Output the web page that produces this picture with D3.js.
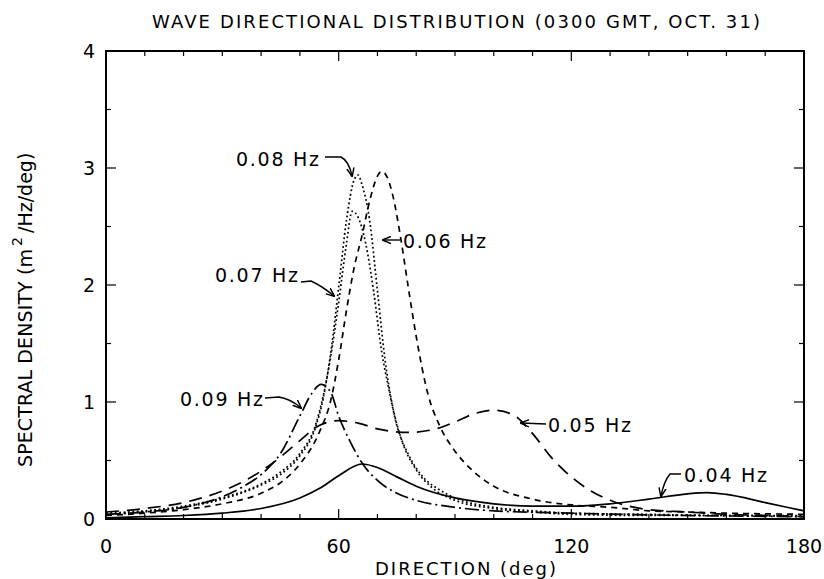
<!DOCTYPE html>
<html>
<head>
<meta charset="utf-8">
<script src="https://cdn.jsdelivr.net/npm/d3@7"></script>
<style>
  body { margin: 0; background: #fff; }
  svg text { font-family: "DejaVu Sans", "Liberation Sans", sans-serif; fill: #000; }
</style>
</head>
<body>
<svg id="chart" width="824" height="579"></svg>
<script>
// directions (deg) and spectral density per frequency
const dir04 = [0, 10, 20, 30, 40, 50, 55, 60, 66, 70, 75, 80, 90, 100, 110, 120, 130, 140, 150, 155, 160, 170, 180];
const val04 = [0.01, 0.02, 0.03, 0.05, 0.09, 0.18, 0.26, 0.37, 0.47, 0.44, 0.36, 0.28, 0.18, 0.13, 0.11, 0.11, 0.13, 0.17, 0.215, 0.225, 0.21, 0.14, 0.07];

const dir05 = [0, 10, 20, 30, 36, 40, 45, 50, 55, 60, 65, 70, 78, 85, 90, 95, 100, 105, 110, 115, 120, 125, 130, 140, 150, 160, 170, 180];
const val05 = [0.06, 0.09, 0.14, 0.24, 0.33, 0.41, 0.53, 0.67, 0.8, 0.84, 0.82, 0.77, 0.74, 0.77, 0.83, 0.9, 0.93, 0.89, 0.73, 0.52, 0.36, 0.24, 0.16, 0.08, 0.06, 0.04, 0.03, 0.02];

const dir06 = [0, 10, 20, 30, 40, 45, 50, 55, 58, 60, 62, 64, 66, 68, 70, 71, 72, 74, 76, 78, 80, 83, 86, 90, 95, 100, 110, 120, 130, 140, 150, 160, 180];
const val06 = [0.03, 0.05, 0.08, 0.13, 0.22, 0.31, 0.47, 0.74, 1.02, 1.36, 1.78, 2.15, 2.42, 2.72, 2.93, 2.97, 2.95, 2.76, 2.4, 1.97, 1.56, 1.07, 0.8, 0.58, 0.4, 0.28, 0.17, 0.12, 0.1, 0.07, 0.06, 0.05, 0.04];

const dir07 = [0, 10, 20, 30, 40, 45, 50, 54, 56, 58, 60, 62, 63.5, 65, 67, 69, 71, 73, 75, 78, 82, 86, 90, 100, 110, 120, 140, 160, 180];
const val07 = [0.05, 0.07, 0.11, 0.18, 0.3, 0.4, 0.56, 0.8, 1.05, 1.4, 1.85, 2.35, 2.63, 2.58, 2.35, 1.95, 1.45, 1.1, 0.8, 0.55, 0.35, 0.25, 0.18, 0.1, 0.07, 0.05, 0.04, 0.03, 0.03];

const dir08 = [0, 10, 20, 30, 40, 45, 50, 54, 56, 58, 60, 62, 64, 65, 66, 68, 70, 72, 74, 76, 80, 84, 90, 100, 110, 120, 140, 160, 180];
const val08 = [0.04, 0.06, 0.1, 0.17, 0.29, 0.38, 0.54, 0.78, 1.03, 1.43, 1.98, 2.55, 2.9, 2.94, 2.86, 2.55, 1.95, 1.35, 0.95, 0.7, 0.42, 0.27, 0.16, 0.09, 0.06, 0.04, 0.03, 0.03, 0.02];

const dir09 = [0, 10, 20, 30, 35, 40, 45, 50, 53, 55.5, 58, 60, 63, 66, 70, 75, 80, 90, 100, 120, 150, 180];
const val09 = [0.04, 0.06, 0.1, 0.19, 0.27, 0.38, 0.56, 0.88, 1.07, 1.15, 1.08, 0.88, 0.66, 0.48, 0.33, 0.22, 0.16, 0.1, 0.07, 0.05, 0.03, 0.02];

const xTicks = [0, 60, 120, 180];
const yTicks = [0, 1, 2, 3, 4];

const svg = d3.select('#chart');
const plotL = 106, plotR = 804, plotT = 51, plotB = 519;

const x = d3.scaleLinear().domain([0, 180]).range([plotL, plotR]);
const y = d3.scaleLinear().domain([0, 4]).range([plotB, plotT]);

svg.append('defs').append('marker')
  .attr('id', 'head')
  .attr('viewBox', '0 0 10 10').attr('refX', 9).attr('refY', 5)
  .attr('markerWidth', 9).attr('markerHeight', 9)
  .attr('markerUnits', 'userSpaceOnUse')
  .attr('orient', 'auto')
  .append('path').attr('d', 'M0,1 L10,5 L0,9').attr('fill', 'none').attr('stroke', '#000').attr('stroke-width', 1.6);

const series = [
  { d: dir04, v: val04, dash: null },
  { d: dir05, v: val05, dash: '13,8' },
  { d: dir06, v: val06, dash: '6,5' },
  { d: dir07, v: val07, dash: '1.8,2.6' },
  { d: dir08, v: val08, dash: '1.8,2.6' },
  { d: dir09, v: val09, dash: '14,4,2,4' }
];

const line = d3.line()
  .x(p => x(p[0]))
  .y(p => y(p[1]))
  .curve(d3.curveMonotoneX);

series.forEach(s => {
  svg.append('path')
    .attr('d', line(d3.zip(s.d, s.v)))
    .attr('fill', 'none')
    .attr('stroke', '#000')
    .attr('stroke-width', 1.7)
    .attr('stroke-dasharray', s.dash);
});

// frame with inward ticks on all four sides
svg.append('rect')
  .attr('x', plotL).attr('y', plotT)
  .attr('width', plotR - plotL).attr('height', plotB - plotT)
  .attr('fill', 'none').attr('stroke', '#000').attr('stroke-width', 2);

const minorX = d3.range(0, 181, 10);
minorX.forEach(t => {
  const len = t % 60 === 0 ? 10 : 5;
  svg.append('line').attr('x1', x(t)).attr('x2', x(t)).attr('y1', plotB).attr('y2', plotB - len)
    .attr('stroke', '#000').attr('stroke-width', 1.2);
  svg.append('line').attr('x1', x(t)).attr('x2', x(t)).attr('y1', plotT).attr('y2', plotT + len)
    .attr('stroke', '#000').attr('stroke-width', 1.2);
});
const minorY = d3.range(0, 4.01, 0.5);
minorY.forEach(t => {
  const len = t % 1 === 0 ? 10 : 5;
  svg.append('line').attr('x1', plotL).attr('x2', plotL + len).attr('y1', y(t)).attr('y2', y(t))
    .attr('stroke', '#000').attr('stroke-width', 1.2);
  svg.append('line').attr('x1', plotR).attr('x2', plotR - len).attr('y1', y(t)).attr('y2', y(t))
    .attr('stroke', '#000').attr('stroke-width', 1.2);
});

svg.selectAll('.xt').data(xTicks).enter().append('text')
  .attr('x', d => x(d)).attr('y', 553)
  .attr('text-anchor', 'middle').attr('font-size', 19)
  .text(d => d);

svg.selectAll('.yt').data(yTicks).enter().append('text')
  .attr('x', 95).attr('y', d => y(d) + 7)
  .attr('text-anchor', 'end').attr('font-size', 19)
  .text(d => d);

// titles
svg.append('text')
  .attr('x', 152).attr('y', 28)
  .attr('font-size', 18)
  .attr('textLength', 608).attr('lengthAdjust', 'spacing')
  .text('WAVE DIRECTIONAL DISTRIBUTION (0300 GMT, OCT. 31)');

svg.append('text')
  .attr('x', 375).attr('y', 575)
  .attr('font-size', 18)
  .attr('textLength', 181).attr('lengthAdjust', 'spacing')
  .text('DIRECTION (deg)');

const yl = svg.append('text')
  .attr('transform', 'translate(32,467) rotate(-90)')
  .attr('font-size', 19);
yl.append('tspan').attr('textLength', 218).attr('lengthAdjust', 'spacing').text('SPECTRAL DENSITY (m');
yl.append('tspan').attr('dy', -10).attr('dx', 3).attr('font-size', 14).text('2');
yl.append('tspan').attr('dy', 10).attr('dx', 4).text('/Hz/deg)');

// frequency labels with pointer arrows
const labels = [
  { t: '0.08 Hz', tx: 236, ty: 166, path: 'M325,157 L341,157 Q349,161 352,176' },
  { t: '0.07 Hz', tx: 215, ty: 282, path: 'M301,282 L311,281 Q322,286 334,296' },
  { t: '0.06 Hz', tx: 403, ty: 248, path: 'M400,240 L383,240' },
  { t: '0.09 Hz', tx: 180, ty: 406, path: 'M265,398 L279,397 Q291,399 301,408' },
  { t: '0.05 Hz', tx: 548, ty: 432, path: 'M546,424 L521,423' },
  { t: '0.04 Hz', tx: 684, ty: 482, path: 'M681,474 L670,474 Q664,481 661,496' }
];

labels.forEach(l => {
  svg.append('text').attr('x', l.tx).attr('y', l.ty).attr('font-size', 19)
    .attr('textLength', 83).attr('lengthAdjust', 'spacing').text(l.t);
  svg.append('path').attr('d', l.path).attr('fill', 'none').attr('stroke', '#000').attr('stroke-width', 1.4)
    .attr('marker-end', 'url(#head)');
});
</script>
</body>
</html>
